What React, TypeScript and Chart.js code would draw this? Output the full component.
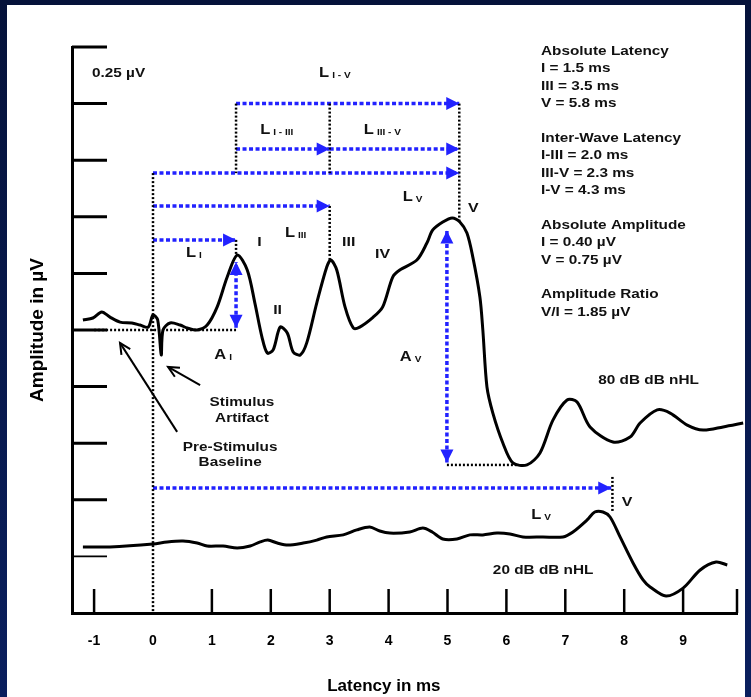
import React, { useEffect, useRef } from "react";
import { Chart, registerables } from "chart.js";

Chart.register(...registerables);

// [latency ms, amplitude µV] for the 80 dB nHL click response
const loudTrace: [number, number][] = [
  [-1.19, 0.044], [-1.02, 0.053], [-0.87, 0.08], [-0.73, 0.057], [-0.56, 0.035],
  [-0.36, 0.031], [-0.22, 0.022], [-0.08, 0.013], [0.0, 0.066], [0.08, 0.044],
  [0.14, -0.11], [0.17, 0.0], [0.29, 0.031], [0.46, 0.022], [0.58, 0.009],
  [0.75, 0.0], [0.92, 0.022], [1.09, 0.102], [1.26, 0.234], [1.43, 0.331],
  [1.6, 0.265], [1.73, 0.119], [1.85, -0.031], [1.94, -0.102], [2.04, -0.088],
  [2.16, 0.013], [2.28, -0.013], [2.38, -0.097], [2.5, -0.11], [2.61, -0.057],
  [2.78, 0.119], [2.95, 0.278], [3.02, 0.309], [3.12, 0.265], [3.26, 0.102],
  [3.4, 0.009], [3.51, 0.013], [3.74, 0.057], [3.9, 0.102], [4.07, 0.234],
  [4.19, 0.265], [4.48, 0.309], [4.65, 0.384], [4.75, 0.442], [4.92, 0.477],
  [5.08, 0.495], [5.21, 0.477], [5.33, 0.428], [5.43, 0.322], [5.55, 0.146],
  [5.6, 0.0], [5.67, -0.252], [5.77, -0.367], [5.94, -0.499], [6.11, -0.587],
  [6.35, -0.596], [6.57, -0.543], [6.79, -0.398], [7.03, -0.309], [7.2, -0.318],
  [7.42, -0.428], [7.81, -0.495], [8.1, -0.473], [8.27, -0.411], [8.56, -0.353],
  [8.78, -0.367], [9.07, -0.42], [9.34, -0.442], [9.68, -0.428], [10.02, -0.411],
];

// [latency ms, amplitude µV] for the 20 dB nHL click response (drawn offset below)
const softTrace: [number, number][] = [
  [-1.19, -0.958], [-0.73, -0.958], [0.0, -0.945], [0.24, -0.936], [0.51, -0.932],
  [0.75, -0.941], [0.92, -0.954], [1.19, -0.954], [1.43, -0.963], [1.65, -0.954],
  [1.82, -0.936], [1.95, -0.928], [2.11, -0.941], [2.29, -0.95], [2.55, -0.941],
  [2.78, -0.928], [2.95, -0.914], [3.23, -0.905], [3.46, -0.883], [3.68, -0.87],
  [3.85, -0.888], [4.02, -0.897], [4.36, -0.892], [4.58, -0.875], [4.74, -0.892],
  [4.92, -0.923], [5.16, -0.923], [5.38, -0.905], [5.6, -0.905], [5.84, -0.897],
  [6.06, -0.901], [6.28, -0.914], [6.62, -0.914], [6.96, -0.914], [7.13, -0.892],
  [7.37, -0.839], [7.5, -0.804], [7.64, -0.804], [7.76, -0.826], [7.93, -0.914],
  [8.15, -1.029], [8.32, -1.104], [8.44, -1.135], [8.71, -1.175], [9.0, -1.14],
  [9.29, -1.06], [9.56, -1.025], [9.75, -1.038],
];

const latencyTicks = [-1, 0, 1, 2, 3, 4, 5, 6, 7, 8, 9];
const amplitudeTicks = [1.25, 1, 0.75, 0.5, 0.25, 0, -0.25, -0.5, -0.75, -1];

// latency markers (ms) of waves I, III and V, and wave V at 20 dB
const peakI = 1.41;
const peakIII = 3.0;
const peakV = 5.2;
const peakVSoft = 7.8;

// horizontal latency arrows: [level µV, from ms, to ms]
const latencyArrows: [number, number, number][] = [
  [0.398, 0, peakI],
  [0.548, 0, peakIII],
  [0.693, 0, peakV],
  [0.8, peakI, peakIII],
  [0.8, peakIII, peakV],
  [1.0, peakI, peakV],
  [-0.698, 0, peakVSoft - 0.02],
];

// vertical amplitude arrows: [latency ms, low µV, high µV]
const amplitudeArrows: [number, number, number][] = [
  [peakI, 0.01, 0.3],
  [4.99, -0.585, 0.44],
];

// dotted reference lines: [x0, y0, x1, y1]
const guideLines: [number, number, number, number][] = [
  [0, 0.693, 0, -1.25],
  [-1.0, 0, peakI, 0],
  [peakI, 0.398, peakI, 0.331],
  [peakI, 1.0, peakI, 0.693],
  [peakIII, 1.0, peakIII, 0.693],
  [peakIII, 0.548, peakIII, 0.309],
  [peakV, 1.0, peakV, 0.48],
  [4.99, -0.596, 6.2, -0.596],
  [peakVSoft, -0.649, peakVSoft, -0.804],
];

// interval labels: [letter, subscript, x ms, y µV]
const intervalLabels: [string, string, number, number][] = [
  ["L", "I - V", 2.82, 1.135],
  ["L", "I - III", 1.82, 0.883],
  ["L", "III - V", 3.58, 0.883],
  ["L", "V", 4.24, 0.587],
  ["L", "III", 2.24, 0.428],
  ["L", "I", 0.56, 0.34],
  ["A", "I", 1.04, -0.11],
  ["A", "V", 4.19, -0.119],
  ["L", "V", 6.42, -0.817],
];

// wave labels: [text, x ms, y µV]
const waveLabels: [string, number, number][] = [
  ["I", 1.77, 0.389],
  ["II", 2.04, 0.088],
  ["III", 3.21, 0.389],
  ["IV", 3.77, 0.336],
  ["V", 5.35, 0.539],
  ["V", 7.96, -0.76],
];

// free text: [text, x ms, y µV, centred]
const noteLabels: [string, number, number, boolean][] = [
  ["0.25 µV", -1.036, 1.135, false],
  ["80 dB dB nHL", 7.56, -0.221, false],
  ["20 dB dB nHL", 5.77, -1.06, false],
  ["Stimulus", 1.51, -0.318, true],
  ["Artifact", 1.51, -0.389, true],
  ["Pre-Stimulus", 1.31, -0.517, true],
  ["Baseline", 1.31, -0.587, true],
];

// callout arrows: [tail x, tail y, tip x, tip y]
const calloutArrows: [number, number, number, number][] = [
  [0.8, -0.243, 0.255, -0.163],
  [0.41, -0.45, -0.56, -0.057],
];

const summaryGroups: string[][] = [
  ["Absolute Latency", "I = 1.5 ms", "III = 3.5 ms", "V = 5.8 ms"],
  ["Inter-Wave Latency", "I-III = 2.0 ms", "III-V = 2.3 ms", "I-V = 4.3 ms"],
  ["Absolute Amplitude", "I = 0.40 µV", "V = 0.75 µV"],
  ["Amplitude Ratio", "V/I = 1.85 µV"],
];

const xTitle = "Latency in ms";

const FONT = '"Liberation Sans", Arial, Helvetica, sans-serif';
const BLUE = "#2222ff";
const INK = "#111";

const pts = (arr: [number, number][]) => arr.map(([x, y]) => ({ x, y }));

function drawText(
  ctx: CanvasRenderingContext2D,
  text: string,
  x: number,
  y: number,
  size: number,
  align: CanvasTextAlign = "left",
  stretch = 1.18,
  color = INK
) {
  ctx.save();
  ctx.font = `bold ${size}px ${FONT}`;
  ctx.textBaseline = "middle";
  ctx.textAlign = align;
  ctx.fillStyle = color;
  ctx.translate(x, y);
  ctx.scale(stretch, 1);
  ctx.fillText(text, 0, 0);
  ctx.restore();
}

function filledHead(ctx: CanvasRenderingContext2D, x0: number, y0: number, x1: number, y1: number) {
  const len = 13;
  const half = 6.5;
  const d = Math.hypot(x1 - x0, y1 - y0) || 1;
  const ux = (x1 - x0) / d;
  const uy = (y1 - y0) / d;
  ctx.beginPath();
  ctx.moveTo(x1, y1);
  ctx.lineTo(x1 - ux * len - uy * half, y1 - uy * len + ux * half);
  ctx.lineTo(x1 - ux * len + uy * half, y1 - uy * len - ux * half);
  ctx.closePath();
  ctx.fill();
}

const annotations = {
  id: "abrAnnotations",
  afterDatasetsDraw(chart: any) {
    const { ctx, chartArea, scales } = chart;
    const X = (v: number) => scales.x.getPixelForValue(v);
    const Y = (v: number) => scales.y.getPixelForValue(v);
    ctx.save();

    // tick marks point into the plot
    ctx.strokeStyle = "#000";
    amplitudeTicks.forEach((v) => {
      ctx.lineWidth = v === -1 ? 1.6 : 3;
      const y = Y(v);
      ctx.beginPath();
      ctx.moveTo(chartArea.left, y);
      ctx.lineTo(chartArea.left + 35, y);
      ctx.stroke();
    });
    ctx.lineWidth = 2.5;
    [...latencyTicks.filter((v) => v !== 0).map(X), chartArea.right].forEach((x) => {
      ctx.beginPath();
      ctx.moveTo(x, chartArea.bottom);
      ctx.lineTo(x, chartArea.bottom - 24);
      ctx.stroke();
    });

    // arrowheads on the latency and amplitude markers
    ctx.fillStyle = BLUE;
    latencyArrows.forEach(([lv, a, b]) => filledHead(ctx, X(a), Y(lv), X(b), Y(lv)));
    amplitudeArrows.forEach(([t, lo, hi]) => {
      filledHead(ctx, X(t), Y(lo), X(t), Y(hi));
      filledHead(ctx, X(t), Y(hi), X(t), Y(lo));
    });

    // callout arrows
    ctx.strokeStyle = "#000";
    ctx.lineWidth = 2;
    calloutArrows.forEach(([tx, ty, hx, hy]) => {
      const x0 = X(tx), y0 = Y(ty), x1 = X(hx), y1 = Y(hy);
      ctx.beginPath();
      ctx.moveTo(x0, y0);
      ctx.lineTo(x1, y1);
      ctx.stroke();
      const ang = Math.atan2(y1 - y0, x1 - x0);
      ctx.beginPath();
      ctx.moveTo(x1 - 12 * Math.cos(ang - 0.45), y1 - 12 * Math.sin(ang - 0.45));
      ctx.lineTo(x1, y1);
      ctx.lineTo(x1 - 12 * Math.cos(ang + 0.45), y1 - 12 * Math.sin(ang + 0.45));
      ctx.stroke();
    });

    // labels
    intervalLabels.forEach(([main, sub, x, y]) => {
      const px = X(x), py = Y(y);
      drawText(ctx, main, px, py, 14);
      ctx.font = `bold 14px ${FONT}`;
      const w = ctx.measureText(main).width * 1.18;
      drawText(ctx, sub, px + w + 3, py + 3, 8.5);
    });
    waveLabels.forEach(([t, x, y]) => drawText(ctx, t, X(x), Y(y), 13.5));
    noteLabels.forEach(([t, x, y, c]) => drawText(ctx, t, X(x), Y(y), 13, c ? "center" : "left"));

    // measurement summary
    let y = chartArea.top + 4;
    const left = chartArea.right - 196;
    summaryGroups.forEach((group) => {
      group.forEach((line) => {
        drawText(ctx, line, left, y, 13);
        y += 17.5;
      });
      y += 17;
    });

    // latency axis title, set under the 3–5 ms span
    drawText(ctx, xTitle, X(3.92), chartArea.bottom + 73, 17, "center", 1.0, "#000");

    ctx.restore();
  },
};

export default function App() {
  const ref = useRef<HTMLCanvasElement | null>(null);

  useEffect(() => {
    if (!ref.current) return;
    const line = (data: { x: number; y: number }[], extra: any) => ({
      data,
      showLine: true,
      pointRadius: 0,
      pointHoverRadius: 0,
      tension: 0,
      ...extra,
    });

    const datasets: any[] = [
      ...guideLines.map(([x0, y0, x1, y1]) =>
        line([{ x: x0, y: y0 }, { x: x1, y: y1 }], {
          borderColor: "#000",
          borderWidth: 2.5,
          borderDash: [2, 2],
        })
      ),
      ...latencyArrows.map(([lv, a, b]) =>
        line([{ x: a, y: lv }, { x: b, y: lv }], {
          borderColor: BLUE,
          borderWidth: 3.5,
          borderDash: [4, 2.5],
        })
      ),
      ...amplitudeArrows.map(([t, lo, hi]) =>
        line([{ x: t, y: lo }, { x: t, y: hi }], {
          borderColor: BLUE,
          borderWidth: 3.5,
          borderDash: [4, 2.5],
        })
      ),
      line(pts(loudTrace), { borderColor: "#000", borderWidth: 3, tension: 0.3, clip: false }),
      line(pts(softTrace), { borderColor: "#000", borderWidth: 3, tension: 0.3, clip: false }),
    ];

    const chart = new Chart(ref.current, {
      type: "scatter",
      data: { datasets },
      plugins: [annotations],
      options: {
        responsive: false,
        animation: false,
        events: [],
        layout: { padding: { top: 47, right: 14, bottom: 0, left: 0 } },
        plugins: { legend: { display: false }, tooltip: { enabled: false } },
        scales: {
          x: {
            type: "linear",
            min: -1.375,
            max: 9.915,
            grid: { display: false, drawTicks: false },
            border: { display: true, color: "#000", width: 3 },
            afterBuildTicks: (s: any) => {
              s.ticks = latencyTicks.map((value) => ({ value }));
            },
            afterFit: (s: any) => {
              s.height = 84;
            },
            ticks: {
              autoSkip: false,
              maxRotation: 0,
              padding: 20,
              color: "#000",
              font: { family: FONT, size: 14, weight: "bold" },
              callback: (v: any) => String(v),
            },
            title: { display: false },
          },
          y: {
            type: "linear",
            min: -1.25,
            max: 1.25,
            grid: { display: false, drawTicks: false },
            border: { display: true, color: "#000", width: 3 },
            afterBuildTicks: (s: any) => {
              s.ticks = amplitudeTicks.map((value) => ({ value }));
            },
            afterFit: (s: any) => {
              s.width = 72;
            },
            ticks: { display: false },
            title: {
              display: true,
              text: "Amplitude in µV",
              color: "#000",
              padding: { top: 26, bottom: 0 },
              font: { family: FONT, size: 19, weight: "bold" },
            },
          },
        },
      } as any,
    });
    return () => chart.destroy();
  }, []);

  return (
    <div
      style={{
        position: "fixed",
        inset: 0,
        background: "linear-gradient(180deg, #05123a 0%, #0a1f5e 100%)",
        overflow: "hidden",
      }}
    >
      <div style={{ position: "absolute", left: 7, top: 5, right: 6, bottom: 0, background: "#fff" }} />
      <canvas
        ref={ref}
        width={751}
        height={697}
        style={{ position: "absolute", left: 0, top: 0, width: 751, height: 697 }}
      />
    </div>
  );
}
